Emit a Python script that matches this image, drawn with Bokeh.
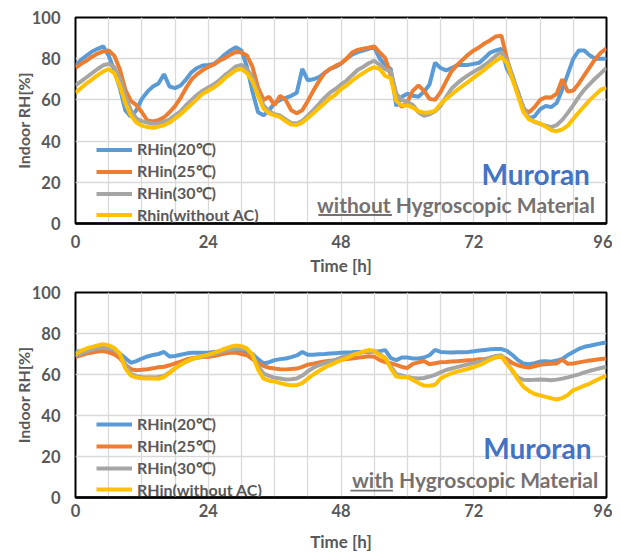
from bokeh.plotting import figure
from bokeh.models import Range1d, FixedTicker, Label, BoxAnnotation
from bokeh.layouts import column
from bokeh.embed import file_html
from bokeh.resources import INLINE

hours = list(range(97))
x_ticks = [0, 24, 48, 72, 96]
y_ticks = [0, 20, 40, 60, 80, 100]

# ---- top chart: without hygroscopic material ----
top_rh20 = [76.5, 79.5, 81.5, 83.5, 84.8, 86, 81.5, 74.5, 66, 55,
            51.8, 55, 60.5, 64, 66.5, 68, 72.5, 66.5, 65.7, 67,
            70, 73.5, 75.5, 76.7, 77, 77.5, 79.5, 82, 84, 85.5,
            84, 76, 64, 54, 52.5, 55, 58.5, 60, 61, 62,
            63.5, 75, 69.5, 70, 71, 73, 75, 76, 77.5, 80,
            82, 83.2, 84, 84.8, 85.6, 80, 77, 75, 57, 61.5,
            63, 62, 61.5, 64, 67.5, 78, 75.5, 74.3, 75.5, 76.8,
            77, 77, 77.5, 78, 80.5, 83, 84, 84.8, 75, 70.5,
            64, 55, 51, 52, 55.5, 57, 56.5, 58.5, 65, 72.5,
            80, 84, 84, 81.5, 80, 80, 80]
top_rh25 = [75.5, 77.5, 79, 81, 82.5, 83.5, 84, 81.5, 75, 65,
            59.5, 57.5, 54, 50, 49.5, 50.2, 51.5, 54, 57, 61,
            65.8, 70, 72.5, 74.5, 76, 77.2, 79, 80.3, 82, 83.3,
            83, 81.5, 76, 66, 60, 61.5, 57.5, 62, 60, 55,
            53.5, 55, 59.5, 64.5, 69, 73, 75, 76.5, 77.8, 80,
            83, 84.3, 84.8, 85.3, 86, 83, 80.3, 72, 60, 56.5,
            59, 64.5, 67, 64.5, 60.5, 60, 63.8, 69, 74, 77,
            79.5, 82, 84, 85.6, 87.5, 89, 90.8, 91.2, 80, 71,
            63, 55.5, 54, 56.5, 60, 61.3, 61.2, 63, 70, 64,
            64.6, 68, 72, 76, 80, 83, 85]
top_rh30 = [67, 69, 71, 73, 75, 76.8, 77.5, 76, 70.5, 62,
            55, 51, 49.7, 49, 48.4, 48.6, 49.3, 50.5, 52.5, 54.5,
            57.5, 60, 62.5, 64.5, 66, 67.5, 69.5, 72, 74, 76.3,
            77, 75, 71, 63, 57.3, 54.5, 53, 52.4, 50.5, 48.8,
            48.5, 49.8, 52.3, 55, 58, 61, 63.5, 65.3, 67.5, 69.4,
            72, 74.5, 76, 77.8, 79, 77, 74.8, 74, 63, 60,
            59, 57.5, 54, 52.3, 53, 54.5, 57, 61.5, 65.5, 68,
            70.2, 72, 73.7, 75.2, 77, 79, 81.5, 83.2, 79, 72,
            63, 56.5, 51, 49.2, 48.4, 47.5, 46.8, 47.8, 50.3, 53.7,
            57.5, 61.5, 65, 67.8, 70.5, 73, 75.5]
top_noac = [63.5, 65.8, 68, 70, 72, 73.8, 75, 73, 67, 58.5,
            52.5, 49, 47.5, 46.8, 46.5, 47, 47.7, 49, 51, 53,
            55.5, 58, 60.5, 63, 64.5, 66, 68, 70.5, 72.5, 74.5,
            75, 73, 69, 62, 55.7, 53.5, 52.5, 51.6, 49.6, 48,
            47.8, 49, 51.2, 53.5, 56, 58.3, 60.8, 62.5, 65.3, 67,
            69.3, 71.3, 73, 74.7, 75.9, 75, 71.6, 70.5, 59.5, 57.3,
            57.3, 56.3, 54.5, 53.8, 54, 54.7, 58, 60.5, 62.6, 64.8,
            66.8, 68.8, 70.8, 72.8, 74.8, 77, 79, 80.8, 78, 70,
            62, 54, 50.5, 49.5, 48.5, 47, 45.3, 44.8, 45.7, 47.5,
            50.8, 54, 57, 60, 62.5, 65, 66]

# ---- bottom chart: with hygroscopic material ----
bot_rh20 = [71, 71.5, 72, 72.5, 73, 73.2, 72.5, 71.5, 70.2, 68,
            65.7, 66.5, 67.8, 68.8, 69.5, 70, 71, 68.8, 69, 69.6,
            70.2, 70.6, 70.6, 70.6, 70.6, 71, 71.2, 71.6, 71.9, 71.8,
            71.5, 71, 70, 67.5, 65.4, 66, 67, 67.5, 67.8, 68.5,
            69.3, 71, 69.6, 69.6, 69.9, 70, 70.2, 70.4, 70.6, 70.7,
            70.8, 71, 71, 71, 71.2, 71.4, 71.9, 68, 67, 68.3,
            68.3, 67.8, 67.8, 68.3, 69.4, 72, 71, 70.8, 70.7, 70.8,
            70.9, 71, 71.3, 71.7, 72, 72.3, 72.4, 72.4, 71.5, 69.5,
            67, 65.4, 65, 65.5, 66.3, 66.5, 66.2, 66.8, 67.6, 69.5,
            71, 72.5, 73.5, 74, 74.6, 75.2, 75.6]
bot_rh25 = [68.5, 69.3, 70.2, 70.7, 71.2, 71.4, 70.8, 69.8, 68, 64.8,
            62.6, 62.1, 62.3, 62.6, 63, 63.5, 63.8, 64.5, 65.4, 66.3,
            67.3, 67.9, 68.3, 68.5, 68.6, 69, 69.6, 70.2, 70.6, 70.7,
            70, 69.4, 67.5, 65.5, 64.1, 63.3, 62.9, 62.6, 62.5, 62.7,
            62.9, 63.7, 64.8, 65.3, 65.9, 66.3, 66.7, 67, 67.2, 67.5,
            67.8, 68.2, 68.5, 68.9, 68.7, 67, 66, 65.5, 64.7, 63.7,
            63.2, 65.2, 65.9, 66.6, 65, 65.5, 66, 66.1, 66.3, 66.5,
            66.7, 66.9, 67.1, 67.4, 67.6, 68, 68.4, 68.8, 67.5, 65.5,
            64.5, 63.8, 63.4, 64, 64.7, 65, 65.2, 65.4, 67.3, 65.2,
            65.4, 65.9, 66.4, 66.8, 67.2, 67.6, 67.8]
bot_rh30 = [68.9, 70.2, 71.4, 72.2, 72.8, 73.2, 72.8, 72, 70, 65,
            60.3, 59.2, 58.8, 58.6, 58.6, 58.8, 59.3, 61, 63, 64.8,
            66.3, 67.5, 68.2, 68.7, 69.3, 70, 70.8, 71.6, 72.2, 72.7,
            72.5, 72, 69.5, 64, 60.5, 59.3, 58.4, 58, 57.6, 57.7,
            58, 59.5, 61.5, 63.3, 64.5, 65.5, 66.2, 67.2, 68.3, 69,
            69.7, 70.4, 70.8, 71.2, 71.4, 70, 68, 64, 60.2, 59.5,
            58.8, 58.3, 58.1, 58.3, 59, 59.8, 61, 62.2, 62.9, 63.6,
            64.3, 65, 65.6, 66.2, 67.2, 68.3, 69, 69.4, 66, 61.5,
            58.5, 57.4, 57.3, 57.4, 57.6, 57.4, 57.2, 57.5, 58, 58.6,
            59.3, 60.1, 61, 61.8, 62.5, 63.2, 63.8]
bot_noac = [70, 71.5, 72.7, 73.5, 74.2, 74.8, 74.2, 73, 70.2, 63,
            59.5, 58.5, 58.2, 58, 58, 57.9, 58.7, 60.8, 63, 64.8,
            66.3, 67.5, 68.3, 69, 69.7, 70.5, 71.5, 72.6, 73.5, 74.1,
            73.8, 72.7, 69.5, 62.5, 58, 57, 56.6, 55.8, 55.1, 54.7,
            54.8, 55.8, 58, 60, 61.7, 63.3, 64.6, 65.8, 67, 68,
            69.3, 70.3, 71.2, 71.9, 71.6, 69.4, 68, 63, 59, 58.7,
            58.8, 57.3, 55.8, 54.6, 54.5, 55, 58, 59.5, 60.6, 61.4,
            62.1, 62.8, 63.6, 64.6, 65.8, 67.3, 68.4, 68.9, 65, 62,
            57.5, 54, 52, 50.5, 49.8, 49.1, 48.4, 47.8, 48.5, 50,
            52.4, 53.4, 54.6, 55.6, 57, 58.3, 59.5]

colors = ["#5B9BD5", "#ED7D31", "#A5A5A5", "#FFC000"]
top_labels = ["RHin(20\u2103)", "RHin(25\u2103)", "RHin(30\u2103)", "Rhin(without AC)"]
bot_labels = ["RHin(20\u2103)", "RHin(25\u2103)", "RHin(30\u2103)", "RHin(without AC)"]

FONT = "Lato"
GRAY = "#595959"
TEXT_GRAY = "#767171"


def make_fig(series, labels, height, b_top, b_bottom, tick_standoff, title_standoff,
             glyph_h, legend_y):
    p = figure(width=612, height=height, output_backend="svg", toolbar_location=None,
               x_range=Range1d(0, 96), y_range=Range1d(0, 100),
               min_border_left=75, min_border_right=6,
               min_border_top=b_top, min_border_bottom=b_bottom)
    p.outline_line_color = "black"
    p.outline_line_width = 2
    for s, c, lab in zip(series, colors, labels):
        p.line(hours, s, line_color=c, line_width=4, legend_label=lab)

    p.xaxis.ticker = FixedTicker(ticks=x_ticks)
    p.yaxis.ticker = FixedTicker(ticks=y_ticks)
    p.xgrid.ticker = FixedTicker(ticks=list(range(0, 97, 6)))
    p.ygrid.ticker = FixedTicker(ticks=y_ticks)
    p.xgrid.grid_line_color = "#D9D9D9"
    p.ygrid.grid_line_color = "#D9D9D9"
    p.xgrid.grid_line_width = 1.3
    p.ygrid.grid_line_width = 1.3

    for ax in (p.xaxis[0], p.yaxis[0]):
        ax.major_tick_line_color = None
        ax.minor_tick_line_color = None
        ax.major_tick_out = 0
        ax.major_tick_in = 0
        ax.minor_tick_out = 0
        ax.minor_tick_in = 0
        ax.major_label_text_font = FONT
        ax.major_label_text_font_style = "bold"
        ax.major_label_text_font_size = "16.5px"
        ax.major_label_text_color = GRAY
        ax.axis_label_text_font = FONT
        ax.axis_label_text_font_style = "bold"
        ax.axis_label_text_color = GRAY
    p.xaxis.axis_label_text_font_size = "17px"
    p.yaxis.axis_label_text_font_size = "16px"
    p.xaxis.axis_line_color = "black"
    p.xaxis.axis_line_width = 2.5
    p.yaxis.axis_line_color = None
    p.xaxis.axis_label = "Time [h]"
    p.yaxis.axis_label = "Indoor RH[%]"
    p.xaxis.major_label_standoff = tick_standoff
    p.xaxis.axis_label_standoff = title_standoff
    p.yaxis.major_label_standoff = 15
    p.yaxis.axis_label_standoff = -4

    lg = p.legend[0]
    lg.location = (21, legend_y)
    lg.background_fill_alpha = 0
    lg.border_line_alpha = 0
    lg.padding = 0
    lg.margin = 0
    lg.spacing = 0
    lg.glyph_width = 36
    lg.glyph_height = glyph_h
    lg.label_height = glyph_h
    lg.label_standoff = 5
    lg.label_text_font = FONT
    lg.label_text_font_style = "bold"
    lg.label_text_font_size = "16px"
    lg.label_text_color = GRAY
    return p


def add_texts(p, mur_x, mur_y, sub_text, sub_x, sub_y, ul_left, ul_right, ul_bottom, ul_top):
    p.add_layout(Label(x=mur_x, y=mur_y, text="Muroran", text_align="right",
                       text_baseline="middle", text_font=FONT, text_font_style="bold",
                       text_font_size="28px", text_color="#4472C4"))
    p.add_layout(Label(x=sub_x, y=sub_y, text=sub_text, text_align="right",
                       text_baseline="middle", text_font=FONT, text_font_style="bold",
                       text_font_size="21px", text_color=TEXT_GRAY))
    p.add_layout(BoxAnnotation(left=ul_left, right=ul_right, bottom=ul_bottom, top=ul_top,
                               fill_color=TEXT_GRAY, fill_alpha=1, line_alpha=0))


p1 = make_fig([top_rh20, top_rh25, top_rh30, top_noac], top_labels,
              280, 17, 57, 11, 4, 21, -2)
add_texts(p1, 93.0, 23.8, "without Hygroscopic Material", 93.9, 9.2,
          43.9, 57.2, 3.7, 4.6)

p2 = make_fig([bot_rh20, bot_rh25, bot_rh30, bot_noac], bot_labels,
              276, 12, 59, 6, 11, 20, -2)
add_texts(p2, 93.3, 24.3, "with Hygroscopic Material", 94.5, 9.0,
          49.7, 57.4, 2.9, 3.8)

layout = column(p1, p2, spacing=0)
open("out.html", "w").write(file_html(layout, INLINE))
